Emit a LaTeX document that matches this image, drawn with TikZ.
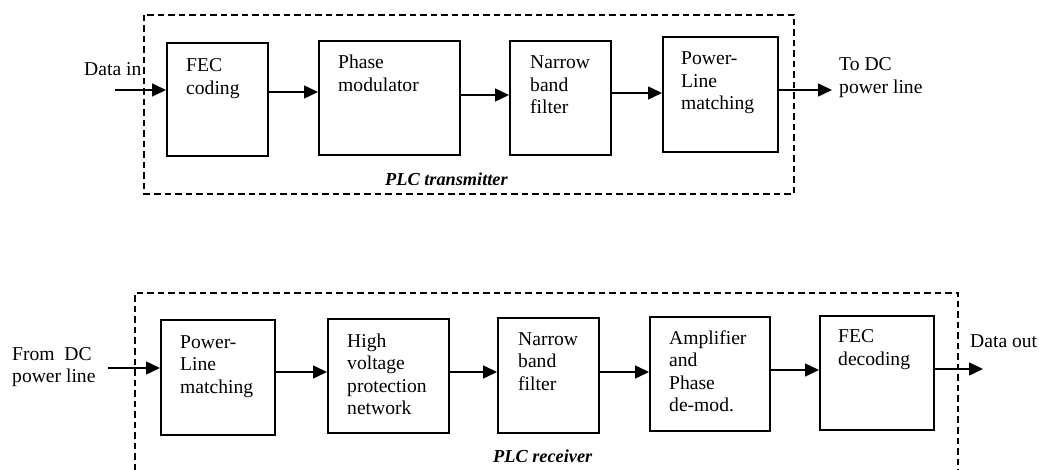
\documentclass[tikz,border=0pt]{standalone}
\usepackage{fontspec}
\setmainfont{Liberation Serif}
\usetikzlibrary{arrows.meta}
\begin{document}
\begin{tikzpicture}[x=1pt,y=-1pt,
  blk/.style={draw, line width=1.6pt, inner sep=0pt, anchor=north west},
  txt/.style={anchor=base west, inner sep=0pt, align=left, font=\fontsize{19.6}{22.5}\selectfont},
  arr/.style={line width=1.5pt, -{Triangle[length=14pt,width=13pt]}},
  dashbox/.style={line width=1.4pt, dash pattern=on 6.5pt off 4pt},
  captxt/.style={anchor=base west, inner sep=0pt, font=\fontsize{18.3}{22}\selectfont\bfseries\itshape}]
\useasboundingbox (0,0) rectangle (1039,470);

% ---------- transmitter ----------
\draw[dashbox] (144,15) rectangle (794,194);
\node[blk, minimum width=101pt, minimum height=113pt] (fec)   at (166,42) {};
\node[blk, minimum width=141pt, minimum height=114pt] (phase) at (318,40) {};
\node[blk, minimum width=101pt, minimum height=114pt] (nbf)   at (509,40) {};
\node[blk, minimum width=115pt, minimum height=115pt] (plm)   at (662,36) {};

% (base anchor of a multi-line node is the baseline of its last line)
\node[txt] (fec-t)   at ([shift={(20,52.5)}]fec.north west)   {FEC\\coding};
\node[txt] (phase-t) at ([shift={(20,51.5)}]phase.north west) {Phase\\modulator};
\node[txt] (nbf-t)   at ([shift={(21,74)}]nbf.north west)     {Narrow\\band\\filter};
\node[txt] (plm-t)   at ([shift={(19,74)}]plm.north west)     {Power-\\Line\\matching};

\coordinate (din) at (115,90);
\coordinate (dout) at (832,90);
\node[txt] (din-t)  at (84,76)    {Data in};
\node[txt] (dout-t) at (839,93.5) {To DC\\power line};
\node[captxt] (tx-t) at (385,186) {PLC transmitter};

\draw[arr] (din) -- (fec.west |- din);
\draw[arr] (fec.east |- 0,92) -- (phase.west |- 0,92);
\draw[arr] (phase.east |- 0,95) -- (nbf.west |- 0,95);
\draw[arr] (nbf.east |- 0,93) -- (plm.west |- 0,93);
\draw[arr] (plm.east |- dout) -- (dout);

% ---------- receiver ----------
\draw[dashbox] (135,470) -- (135,293) -- (958,293) -- (958,470);
\node[blk, minimum width=114pt, minimum height=115pt] (rplm) at (160,319) {};
\node[blk, minimum width=121pt, minimum height=114pt] (hv)   at (327,318) {};
\node[blk, minimum width=101pt, minimum height=115pt] (rnbf) at (497,317) {};
\node[blk, minimum width=120pt, minimum height=114pt] (amp)  at (649,316) {};
\node[blk, minimum width=114pt, minimum height=114pt] (fecd) at (819,315) {};

\node[txt] (rplm-t) at ([shift={(20,74)}]rplm.north west)   {Power-\\Line\\matching};
\node[txt] (hv-t)   at ([shift={(20,96.5)}]hv.north west)   {High\\voltage\\protection\\network};
\node[txt] (rnbf-t) at ([shift={(21,73)}]rnbf.north west)   {Narrow\\band\\filter};
\node[txt] (amp-t)  at ([shift={(20,95.5)}]amp.north west)  {Amplifier\\and\\Phase\\de-mod.};
\node[txt] (fecd-t) at ([shift={(19,50.5)}]fecd.north west) {FEC\\decoding};

\coordinate (rin) at (108,368);
\coordinate (rout) at (983,369);
\node[txt] (rin-t)  at (12,382.5) {From~ DC\\power line};
\node[txt] (rout-t) at (970,348)  {Data out};
\node[captxt] (rx-t) at (493,462) {PLC receiver};

\draw[arr] (rin) -- (rplm.west |- rin);
\draw[arr] (rplm.east |- 0,372) -- (hv.west |- 0,372);
\draw[arr] (hv.east |- 0,372) -- (rnbf.west |- 0,372);
\draw[arr] (rnbf.east |- 0,372) -- (amp.west |- 0,372);
\draw[arr] (amp.east |- 0,370) -- (fecd.west |- 0,370);
\draw[arr] (fecd.east |- rout) -- (rout);
\end{tikzpicture}
\end{document}
